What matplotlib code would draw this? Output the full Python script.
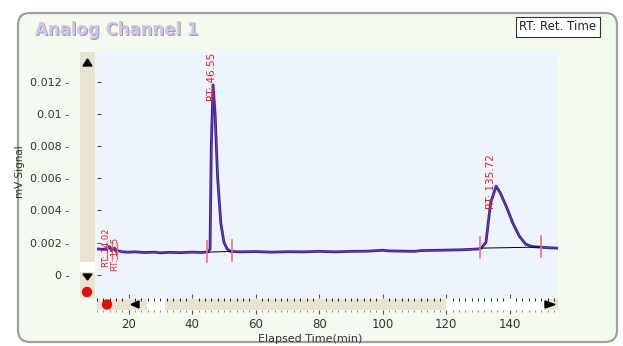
import matplotlib
matplotlib.use('Agg')
import matplotlib.pyplot as plt
from matplotlib.patches import FancyBboxPatch, Rectangle, Circle, Polygon

tempo = [10, 12, 13, 14, 14.5, 15.5, 16, 17, 18, 20, 22, 25, 28, 30, 33, 36, 40, 43, 45,
         45.6, 46.0, 46.55, 47.2, 48, 49, 50, 51, 52, 55, 60, 65, 70, 75, 80, 85, 90, 95,
         100, 102, 110, 112, 118, 125, 130, 131, 132.5, 134, 135.72, 137, 139, 141, 143,
         145, 147, 149, 152, 155]
sinal = [0.00160, 0.00158, 0.00162, 0.00175, 0.00150, 0.00165, 0.00145, 0.00148, 0.00142,
         0.00140, 0.00142, 0.00138, 0.00140, 0.00136, 0.00139, 0.00137, 0.00140, 0.00138,
         0.00142, 0.00160, 0.0080, 0.01180, 0.0100, 0.0060, 0.0032, 0.0020, 0.00160, 0.00145,
         0.00142, 0.00144, 0.00140, 0.00143, 0.00142, 0.00145, 0.00142, 0.00145, 0.00146,
         0.00152, 0.00148, 0.00145, 0.00150, 0.00152, 0.00155, 0.00160, 0.00165, 0.0020,
         0.0045, 0.0055, 0.0051, 0.0042, 0.0032, 0.0024, 0.0019, 0.00175, 0.00172, 0.00168,
         0.00165]

rotulos_rt = ["RT: 14.02", "RT: 15.5", "RT: 46.55", "RT: 135.72"]
rotulo_x = [12.9, 15.9, 46.3, 134.0]
rotulo_y = [0.0005, 0.0002, 0.0108, 0.0041]
rotulo_tam = [6, 6, 7.5, 7.5]

inicio_pico = [44.8, 130.7]
fim_pico = [52.4, 149.9]
base_ini = [0.00140, 0.00165]
base_fim = [0.00145, 0.00172]

# marcas pequenas dos picos iniciais
marcas_iniciais = [13.2, 14.8, 16.4]

xticks = [20, 40, 60, 80, 100, 120, 140]
yticks = [0, 0.002, 0.004, 0.006, 0.008, 0.01, 0.012]
ylabels = ["0 -", "0.002 -", "0.004 -", "0.006 -", "0.008 -", "0.01 -", "0.012 -"]

plt.rcParams['font.family'] = ['DejaVu Sans']

W, H = 623, 346
fig = plt.figure(figsize=(W / 100, H / 100), dpi=100)
fig.patch.set_facecolor('white')

# camada de fundo em pixels (painel verde)
bg = fig.add_axes([0, 0, 1, 1], zorder=0)
bg.set_xlim(0, W)
bg.set_ylim(H, 0)
bg.axis('off')
bg.add_patch(FancyBboxPatch((18, 13), 599, 329, boxstyle="round,pad=0,rounding_size=12",
                            facecolor='#f3fbef', edgecolor='#9aa49a', linewidth=1.6))
bg.text(36.5, 31.5, "Analog Channel 1", fontsize=12, fontweight='bold', color='#9c9aa8',
        va='center', ha='left')
bg.text(35, 30, "Analog Channel 1", fontsize=12, fontweight='bold', color='#d2c4e6',
        va='center', ha='left')
bg.text(558, 27, "RT: Ret. Time", fontsize=8.5, color='#222222', ha='center', va='center',
        bbox=dict(boxstyle='square,pad=0.3', facecolor='white', edgecolor='#333333', linewidth=0.8))
bg.text(310, 339, "Elapsed Time(min)", fontsize=8, color='#333333', ha='center', va='center')
bg.text(20, 172, "mV Signal", fontsize=7.5, color='#333333', ha='center', va='center', rotation=90)

# barra de rolagem vertical
bg.add_patch(Rectangle((80, 52), 15, 246, facecolor='#e9e3d2', edgecolor='none'))
bg.add_patch(Rectangle((80, 262), 15, 10, facecolor='white', edgecolor='none'))
bg.add_patch(Polygon([(83, 66), (92, 66), (87.5, 59)], color='black'))
bg.add_patch(Polygon([(83, 274), (92, 274), (87.5, 280)], color='black'))
bg.add_patch(Circle((87, 292), 4.5, color='#e01010'))

# barra de rolagem horizontal
bg.add_patch(Rectangle((97, 299), 461, 11, facecolor='#e9e3d2', edgecolor='none'))
bg.add_patch(Rectangle((147, 299), 18, 11, facecolor='white', edgecolor='none'))
bg.add_patch(Rectangle((446, 299), 98, 11, facecolor='white', edgecolor='none'))
bg.add_patch(Circle((107, 304.5), 4.5, color='#e01010'))
bg.add_patch(Polygon([(139, 301), (139, 308), (131, 304.5)], color='black'))
bg.add_patch(Polygon([(545, 301), (545, 308), (555, 304.5)], color='black'))

# eixo principal
ax = fig.add_axes([97 / W, 1 - 298 / H, 461 / W, 246 / H], zorder=2)
ax.set_facecolor('#eef4fc')
for s in ax.spines.values():
    s.set_visible(False)
ax.set_xlim(10.2, 155.2)
ax.set_ylim(-0.00145, 0.01385)

ax.plot(tempo, sinal, color='#3b1c94', linewidth=2.0, zorder=3)
ax.plot(tempo, sinal, color='#7a5cc8', linewidth=0.6, alpha=0.7, zorder=4)

for i in range(len(inicio_pico)):
    ax.plot([inicio_pico[i], fim_pico[i]], [base_ini[i], base_fim[i]], color='black',
            linewidth=0.7, zorder=5)
    for xm, ym in ((inicio_pico[i], base_ini[i]), (fim_pico[i], base_fim[i])):
        ax.plot([xm, xm], [ym - 0.0006, ym + 0.0007], color='#f07070', linewidth=1.2, zorder=6)

for xm in marcas_iniciais:
    ax.plot([xm, xm], [0.0010, 0.0020], color='#f07070', linewidth=1.0, zorder=6)

for xr, yr, t, fs in zip(rotulo_x, rotulo_y, rotulos_rt, rotulo_tam):
    ax.text(xr, yr, t, rotation=90, fontsize=fs, color='#e02020', ha='center', va='bottom',
            zorder=7)

ax.set_yticks(yticks)
ax.set_yticklabels(ylabels, fontsize=8, color='#333333')
ax.tick_params(axis='y', direction='in', length=3, pad=20, color='#555555')
ax.set_xticks(xticks)
ax.tick_params(axis='x', direction='in', length=3, labelbottom=False, color='#555555')

# eixo da barra inferior (apenas marcas e rótulos de tempo)
axb = fig.add_axes([97 / W, 1 - 310 / H, 461 / W, 11 / H], zorder=1, sharex=ax)
axb.patch.set_alpha(0)
for s in axb.spines.values():
    s.set_visible(False)
axb.set_yticks([])
axb.set_xticks(xticks)
axb.set_xticks(range(10, 156, 2), minor=True)
axb.tick_params(axis='x', which='major', direction='out', length=3, labelsize=8.5,
                labelcolor='#333333', color='#555555', pad=3)
axb.tick_params(axis='x', which='minor', direction='out', length=1.5, color='#777777')

plt.savefig('out.png', dpi=100)
